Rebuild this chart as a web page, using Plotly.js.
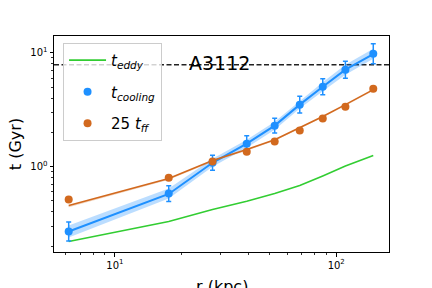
<!DOCTYPE html>
<html>
<head>
<meta charset="utf-8">
<script src="https://cdn.plot.ly/plotly-3.0.1.min.js"></script>
<style>html,body{margin:0;padding:0;background:#fff;}#chart{width:432px;height:288px;}</style>
</head>
<body>
<div id="chart"></div>
<script>
// radius (kpc)
const r = [6.18, 17.5, 27.6, 39.4, 52.7, 68.4, 86.9, 110, 147];
// cooling time (Gyr) with error bars
const tCool = [0.269, 0.58, 1.08, 1.59, 2.29, 3.50, 5.03, 7.10, 9.80];
const tCoolErrPlus = [0.057, 0.10, 0.177, 0.28, 0.375, 0.65, 0.88, 1.33, 2.2];
const tCoolErrMinus = [0.047, 0.086, 0.152, 0.237, 0.322, 0.55, 0.75, 1.12, 1.79];
// cooling-time model and its band
const tCoolModel = [0.269, 0.575, 1.08, 1.59, 2.29, 3.50, 5.03, 7.10, 9.70];
const tCoolLo = [0.238, 0.524, 0.996, 1.467, 2.11, 3.23, 4.59, 6.42, 8.86];
const tCoolHi = [0.304, 0.642, 1.171, 1.724, 2.48, 3.79, 5.51, 7.85, 10.84];
// 25 x free-fall time
const tff25 = [0.514, 0.80, 1.11, 1.35, 1.66, 2.07, 2.64, 3.36, 4.83];
const tff25ErrPlus = [0.02, 0.03, 0.04, 0.05, 0.06, 0.07, 0.09, 0.11, 0.15];
const tff25ErrMinus = [0.02, 0.03, 0.04, 0.05, 0.06, 0.07, 0.09, 0.11, 0.15];
const tff25Model = [0.455, 0.785, 1.13, 1.41, 1.72, 2.20, 2.75, 3.50, 4.74];
const tff25Lo = [0.440, 0.765, 1.105, 1.38, 1.685, 2.155, 2.695, 3.43, 4.64];
// eddy turnover time
const tEddy = [0.220, 0.330, 0.420, 0.496, 0.580, 0.681, 0.826, 1.01, 1.25];
// horizontal reference level
const tRef = 7.85;
const clusterName = "A3112";
const xLabel = "r (kpc)";
const yLabel = "t (Gyr)";

const xTicks = [10, 100];
const xTickText = ["10<sup>1</sup>", "10<sup>2</sup>"];
const xMinor = [6, 7, 8, 9, 20, 30, 40, 50, 60, 70, 80, 90];
const yTicks = [1, 10];
const yTickText = ["10<sup>0</sup>", "10<sup>1</sup>"];
const yMinor = [0.2, 0.3, 0.4, 0.5, 0.6, 0.7, 0.8, 0.9, 2, 3, 4, 5, 6, 7, 8, 9];

const blue = "#1E90FF";
const orange = "#D2691E";
const green = "#32CD32";

const traces = [
  {x: r, y: tEddy, mode: "lines", name: "<i>t</i><sub><i>eddy</i></sub>",
   line: {color: green, width: 1.6}, legendgroup: "a"},
  {x: r, y: tCoolLo, mode: "lines", line: {width: 0, color: blue}, showlegend: false, hoverinfo: "skip"},
  {x: r, y: tCoolHi, mode: "lines", line: {width: 0, color: blue}, fill: "tonexty",
   fillcolor: "rgba(30,144,255,0.3)", showlegend: false, hoverinfo: "skip"},
  {x: r, y: tCoolModel, mode: "lines", line: {color: blue, width: 2}, showlegend: false},
  {x: r, y: tff25Lo, mode: "lines", line: {width: 0, color: orange}, showlegend: false, hoverinfo: "skip"},
  {x: r, y: tff25Model, mode: "lines", line: {color: orange, width: 1.6}, fill: "tonexty",
   fillcolor: "rgba(210,105,30,0.3)", showlegend: false},
  {x: r, y: tCool, mode: "markers", name: "<i>t</i><sub><i>cooling</i></sub>",
   marker: {color: blue, size: 8},
   error_y: {type: "data", array: tCoolErrPlus, arrayminus: tCoolErrMinus, color: blue, thickness: 1.5, width: 2.5},
   legendgroup: "b"},
  {x: r, y: tff25, mode: "markers", name: "25 <i>t</i><sub><i>ff</i></sub>",
   marker: {color: orange, size: 8},
   error_y: {type: "data", array: tff25ErrPlus, arrayminus: tff25ErrMinus, color: orange, thickness: 1.5, width: 2.5},
   legendgroup: "c"}
];

const axisCommon = {
  type: "log", showline: true, linecolor: "#000", linewidth: 1, mirror: true,
  ticks: "outside", ticklen: 3.5, tickwidth: 1, tickcolor: "#000",
  showgrid: false, zeroline: false, tickmode: "array",
  tickfont: {family: "DejaVu Sans", size: 10, color: "#000"}
};

const layout = {
  width: 432, height: 288,
  margin: {l: 54, r: 43, t: 36, b: 36},
  paper_bgcolor: "#fff", plot_bgcolor: "#fff",
  showlegend: true,
  xaxis: Object.assign({}, axisCommon, {
    range: [0.7246, 2.2384], tickvals: xTicks, ticktext: xTickText,
    minor: {tickmode: "array", tickvals: xMinor, ticks: "outside", ticklen: 2, tickcolor: "#000", tickwidth: 0.8}
  }),
  yaxis: Object.assign({}, axisCommon, {
    range: [-0.75, 1.147], tickvals: yTicks, ticktext: yTickText,
    minor: {tickmode: "array", tickvals: yMinor, ticks: "outside", ticklen: 2, tickcolor: "#000", tickwidth: 0.8},
    title: {text: yLabel, font: {family: "DejaVu Sans", size: 16, color: "#000"}, standoff: 4}
  }),
  legend: {
    x: 0.027, y: 0.968, xanchor: "left", yanchor: "top",
    bgcolor: "rgba(255,255,255,0.8)", bordercolor: "#cccccc", borderwidth: 1,
    font: {family: "DejaVu Sans", size: 15, color: "#000"},
    traceorder: "grouped", tracegroupgap: 9, itemwidth: 37
  },
  shapes: [{type: "line", xref: "paper", x0: 0, x1: 1, yref: "y", y0: tRef, y1: tRef,
            line: {color: "#222", width: 1.5, dash: "5px,2.5px"}, layer: "below"}],
  annotations: [
    {text: clusterName, xref: "paper", yref: "paper", x: 0.4955, y: 0.873,
     xanchor: "center", yanchor: "middle", showarrow: false,
     font: {family: "DejaVu Sans", size: 19, color: "#000"}},
    {text: xLabel, xref: "paper", yref: "paper", x: 0.5, y: -0.108,
     xanchor: "center", yanchor: "top", showarrow: false,
     font: {family: "DejaVu Sans", size: 16, color: "#000"}}
  ]
};

Plotly.newPlot("chart", traces, layout, {displayModeBar: false, staticPlot: true});
</script>
</body>
</html>
